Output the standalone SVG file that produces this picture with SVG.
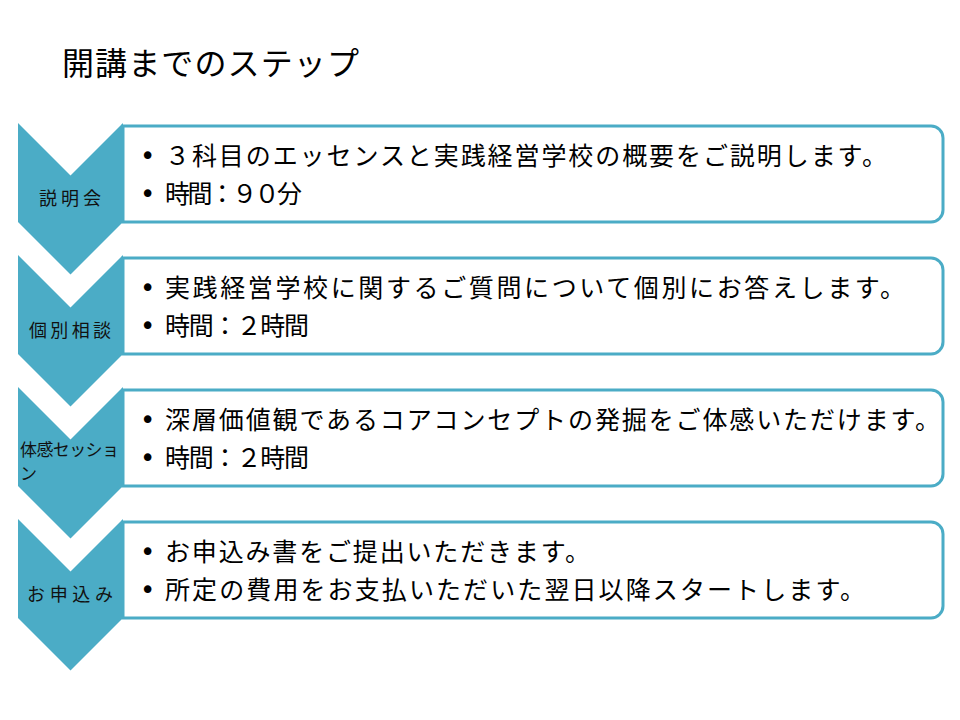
<svg xmlns="http://www.w3.org/2000/svg" width="960" height="720" viewBox="0 0 960 720">
<style>
.box{fill:#ffffff;stroke:#4BACC6;stroke-width:3}
.chev{fill:#4BACC6}
.t{font-family:"Noto Sans CJK JP","Noto Sans",sans-serif;font-size:25px;fill:#000}
.b{font-family:"DejaVu Sans",sans-serif;font-size:26px;fill:#000}
.lab{font-family:"Noto Sans CJK JP","Noto Sans",sans-serif;font-size:18px;fill:#111}
.lab3{font-family:"Noto Sans CJK JP","Noto Sans",sans-serif;font-size:17px;fill:#111}
.title{font-family:"Noto Sans CJK JP","Noto Sans",sans-serif;font-size:32px;fill:#000}
</style>
<defs>
<path id="boxshape" d="M123,126 H931 A12,12 0 0 1 943,138 V210 A12,12 0 0 1 931,222 H123 Z"/>
<path id="chevshape" d="M18,123 L70.5,175.5 L123,123 V222 L70.5,274.5 L18,222 Z"/>
</defs>
<rect width="960" height="720" fill="#ffffff"/>
<text class="title" x="62" y="75" textLength="297" lengthAdjust="spacing">開講までのステップ</text>

<g id="step1">
<use href="#boxshape" class="box"/>
<use href="#chevshape" class="chev"/>
<text class="lab" x="39" y="205" textLength="62" lengthAdjust="spacing">説明会</text>
<text class="b" x="140" y="165">•</text>
<text class="t" x="165" y="165" textLength="722" lengthAdjust="spacing">３科目のエッセンスと実践経営学校の概要をご説明します。</text>
<text class="b" x="140" y="203">•</text>
<text class="t" x="165" y="203" textLength="137" lengthAdjust="spacing">時間：９０分</text>
</g>

<g id="step2" transform="translate(0,132)">
<use href="#boxshape" class="box"/>
<use href="#chevshape" class="chev"/>
<text class="lab" x="29" y="205" textLength="82" lengthAdjust="spacing">個別相談</text>
<text class="b" x="140" y="165">•</text>
<text class="t" x="165" y="165" textLength="740" lengthAdjust="spacing">実践経営学校に関するご質問について個別にお答えします。</text>
<text class="b" x="140" y="203">•</text>
<text class="t" x="165" y="203" textLength="144" lengthAdjust="spacing">時間：２時間</text>
</g>

<g id="step3" transform="translate(0,264)">
<use href="#boxshape" class="box"/>
<use href="#chevshape" class="chev"/>
<text class="lab3" x="20" y="192" textLength="99" lengthAdjust="spacing">体感セッショ</text>
<text class="lab3" x="20" y="216">ン</text>
<text class="b" x="140" y="165">•</text>
<text class="t" x="165" y="165" textLength="775" lengthAdjust="spacing">深層価値観であるコアコンセプトの発掘をご体感いただけます。</text>
<text class="b" x="140" y="203">•</text>
<text class="t" x="165" y="203" textLength="144" lengthAdjust="spacing">時間：２時間</text>
</g>

<g id="step4" transform="translate(0,396)">
<use href="#boxshape" class="box"/>
<use href="#chevshape" class="chev"/>
<text class="lab" x="27" y="205" textLength="86" lengthAdjust="spacing">お申込み</text>
<text class="b" x="140" y="165">•</text>
<text class="t" x="165" y="165" textLength="425" lengthAdjust="spacing">お申込み書をご提出いただきます。</text>
<text class="b" x="140" y="203">•</text>
<text class="t" x="165" y="203" textLength="700" lengthAdjust="spacing">所定の費用をお支払いただいた翌日以降スタートします。</text>
</g>
</svg>
